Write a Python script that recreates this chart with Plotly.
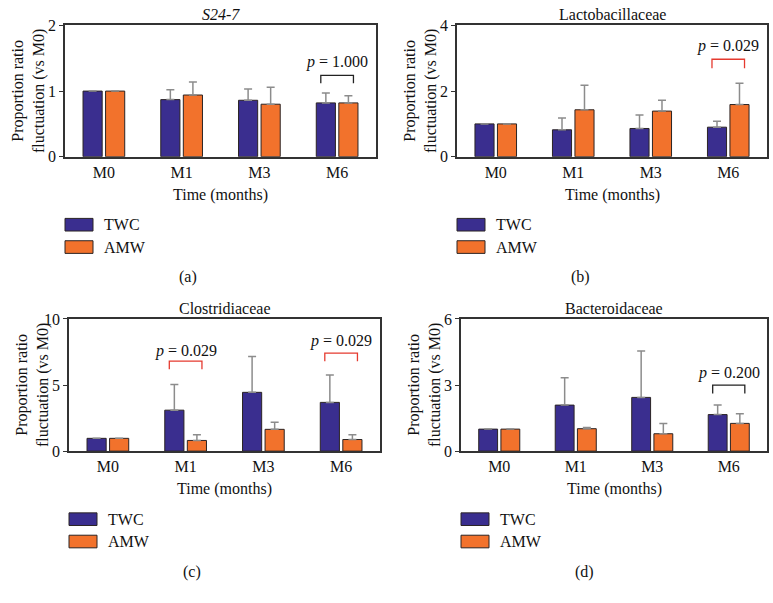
import plotly.graph_objects as go

# Data
months = ["M0", "M1", "M3", "M6"]
groups = ["TWC", "AMW"]
colors = ["#3a2e8f", "#f2722c"]

titles = ["<i>S24-7</i>", "Lactobacillaceae", "Clostridiaceae", "Bacteroidaceae"]
panel_labels = ["(a)", "(b)", "(c)", "(d)"]

twc_mean = [[1.00, 0.87, 0.86, 0.82],
            [1.00, 0.82, 0.86, 0.90],
            [0.97, 3.10, 4.45, 3.69],
            [1.00, 2.09, 2.44, 1.66]]
twc_err = [[0.0, 0.15, 0.17, 0.15],
           [0.0, 0.36, 0.41, 0.18],
           [0.0, 1.94, 2.72, 2.08],
           [0.0, 1.24, 2.11, 0.44]]
amw_mean = [[1.00, 0.94, 0.80, 0.82],
            [1.00, 1.43, 1.39, 1.59],
            [0.97, 0.81, 1.65, 0.88],
            [1.00, 1.02, 0.79, 1.26]]
amw_err = [[0.0, 0.20, 0.26, 0.11],
           [0.0, 0.75, 0.33, 0.65],
           [0.0, 0.44, 0.54, 0.37],
           [0.0, 0.05, 0.47, 0.44]]

y_max = [2, 4, 10, 6]
y_ticks = [[0, 1, 2], [0, 2, 4], [0, 5, 10], [0, 3, 6]]

# p-value brackets: (panel, month index, label, bracket bottom, bracket top, text y, colour)
brackets = [
    (0, 3, "1.000", 1.12, 1.24, 1.45, "#222222"),
    (1, 3, "0.029", 2.70, 2.97, 3.38, "#e53a2f"),
    (2, 1, "0.029", 6.19, 6.81, 7.57, "#e53a2f"),
    (2, 3, "0.029", 6.81, 7.42, 8.31, "#e53a2f"),
    (3, 3, "0.200", 2.62, 3.00, 3.54, "#222222"),
]

W, H = 773, 603
FONT = "Liberation Serif"

# panel boxes in pixels: left, right, top, bottom
boxes = [(65, 376, 18, 153), (457, 767, 18, 153),
         (69, 380, 320, 456), (461, 767, 320, 456)]


def px(x):
    return x / W


def py(y):
    return 1 - y / H


def note(x, y, text, **kw):
    d = dict(x=px(x), y=py(y), xref="paper", yref="paper", text=text,
             showarrow=False, xanchor="center", yanchor="middle",
             font=dict(size=16, family=FONT, color="#111"))
    d.update(kw)
    return d


fig = go.Figure()
annotations = []
shapes = []

for k in range(4):
    l, r, t, b = boxes[k]
    ax = "" if k == 0 else str(k + 1)
    for g, (means, errs) in enumerate([(twc_mean, twc_err), (amw_mean, amw_err)]):
        fig.add_trace(go.Bar(
            x=months, y=means[k], name=groups[g],
            marker=dict(color=colors[g], line=dict(color="#2b2424", width=1)),
            error_y=dict(type="data", symmetric=False, array=errs[k],
                         arrayminus=[0] * 4, color="#8c8c8c", thickness=1.5, width=4),
            xaxis="x" + ax, yaxis="y" + ax, showlegend=False,
        ))
    fig.update_layout(**{
        "xaxis" + ax: dict(domain=[px(l), px(r)], anchor="y" + ax, range=[-0.5, 3.5],
                           showline=True, mirror=True, linecolor="#333333", linewidth=1.5,
                           ticks="", tickfont=dict(size=16, family=FONT, color="#111"),
                           showgrid=False, fixedrange=True),
        "yaxis" + ax: dict(domain=[py(b), py(t)], anchor="x" + ax, range=[0, y_max[k]],
                           tickvals=y_ticks[k], showline=True, mirror=True,
                           linecolor="#333333", linewidth=1.5, ticks="outside",
                           ticklen=4, tickcolor="#333333",
                           tickfont=dict(size=16, family=FONT, color="#111"),
                           showgrid=False, zeroline=False, fixedrange=True),
    })
    cx = (l + r) / 2
    annotations.append(note(cx, t - 11, titles[k]))
    annotations.append(note(l - 37, (t + b) / 2, "Proportion ratio<br>fluctuation (vs M0)",
                            textangle=-90))
    annotations.append(note(cx, b + 39, "Time (months)"))
    # legend
    for g in range(2):
        ly = b + 70 + g * 23
        shapes.append(dict(type="rect", xref="paper", yref="paper",
                           x0=px(l), x1=px(l + 28), y0=py(ly - 6.5), y1=py(ly + 6.5),
                           fillcolor=colors[g], line=dict(color="#2b2424", width=1)))
        annotations.append(note(l + 37, ly, groups[g], xanchor="left"))
    annotations.append(note(l + 123, b + 124, panel_labels[k]))

for k, i, label, y0, y1, ytxt, col in brackets:
    ax = "" if k == 0 else str(k + 1)
    xr, yr = "x" + ax, "y" + ax
    shapes.append(dict(type="path", xref=xr, yref=yr,
                       path=f"M {i - 0.21},{y0} L {i - 0.21},{y1} L {i + 0.21},{y1} L {i + 0.21},{y0}",
                       line=dict(color=col, width=1.3)))
    annotations.append(dict(x=i, y=ytxt, xref=xr, yref=yr, showarrow=False,
                            xanchor="center", yanchor="middle",
                            text="<i>p</i> = " + label,
                            font=dict(size=16, family=FONT, color="#111")))

fig.update_layout(
    width=W, height=H, margin=dict(l=0, r=0, t=0, b=0),
    paper_bgcolor="white", plot_bgcolor="white",
    barmode="group", bargap=0.42, bargroupgap=0.15,
    annotations=annotations, shapes=shapes,
    font=dict(family=FONT),
)

# drop the default page margin so the 773x603 figure fills the window exactly
fig.write_html("out.html", config={"displayModeBar": False, "responsive": False},
               post_script="document.body.style.margin='0';document.body.style.overflow='hidden';")
